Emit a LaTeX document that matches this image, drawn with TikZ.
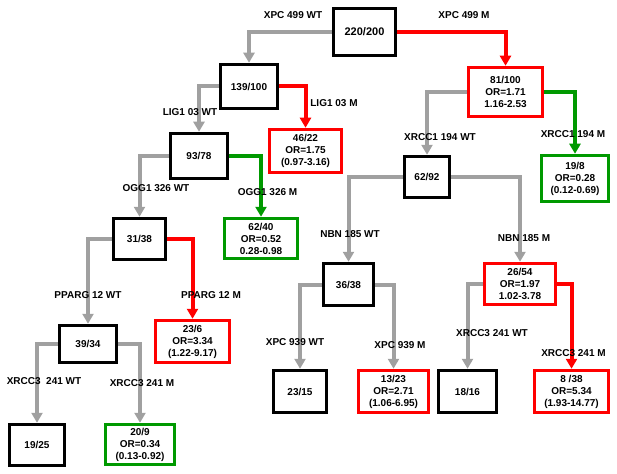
\documentclass[tikz,border=0pt]{standalone}
\usepackage{fontspec}
\setmainfont{Liberation Sans}
\usetikzlibrary{arrows.meta}
\definecolor{cgray}{RGB}{160,160,160}
\definecolor{cred}{RGB}{255,0,0}
\definecolor{cgreen}{RGB}{0,153,0}
\tikzset{
  box/.style={draw=black, line width=3.5pt, fill=white, inner sep=1pt, align=center,
    font=\fontsize{10}{12}\selectfont\bfseries},
  redbox/.style={box, draw=cred},
  greenbox/.style={box, draw=cgreen},
  lbl/.style={font=\fontsize{10}{12}\selectfont\bfseries, inner sep=0pt},
  conn/.style={line width=4pt, -{Triangle[width=11pt,length=10pt]}},
  gconn/.style={conn, cgray},
  rconn/.style={conn, cred},
  ggconn/.style={conn, cgreen},
}
\newcommand{\bx}[6]{\node[#1, minimum width=#4pt, minimum height=#5pt] (#2) at (#3) {#6};}
\begin{document}
\begin{tikzpicture}[x=1pt,y=-1pt]
\useasboundingbox (0,0) rectangle (617,473);
% boxes
\bx{box}{root}{364.5,32}{62}{47}{\fontsize{11}{13}\selectfont 220/200}
\bx{box}{a}{249,86.5}{57}{44}{139/100}
\bx{redbox}{b}{505.5,92}{74}{49}{81/100\\OR=1.71\\1.16-2.53}
\bx{redbox}{c}{305.5,151}{72}{43}{46/22\\OR=1.75\\(0.97-3.16)}
\bx{box}{d}{199,156}{57}{45}{93/78}
\bx{box}{e}{427,177}{45}{41}{62/92}
\bx{greenbox}{f}{575,178.5}{67}{46}{19/8\\OR=0.28\\(0.12-0.69)}
\bx{box}{g}{139.5,239}{52}{41}{31/38}
\bx{greenbox}{h}{261,238.5}{73}{40}{62/40\\OR=0.52\\0.28-0.98}
\bx{box}{i}{348.5,284.5}{50}{42}{36/38}
\bx{redbox}{j}{520,284}{71}{41}{26/54\\OR=1.97\\1.02-3.78}
\bx{box}{k}{88,344}{57}{37}{39/34}
\bx{redbox}{l}{192.5,341.5}{74}{42}{23/6\\OR=3.34\\(1.22-9.17)}
\bx{box}{m}{300,391.5}{53}{42}{23/15}
\bx{redbox}{n}{393.5,391.5}{70}{42}{13/23\\OR=2.71\\(1.06-6.95)}
\bx{box}{o}{467.5,391.5}{58}{42}{18/16}
\bx{redbox}{p}{571.5,391.5}{74}{42}{8 /38\\OR=5.34\\(1.93-14.77)}
\bx{box}{q}{37,445}{55}{41}{19/25}
\bx{greenbox}{r}{140,444.5}{69}{40}{20/9\\OR=0.34\\(0.13-0.92)}
% connectors
\draw[gconn] (root.west) -| (a.north);
\draw[rconn] (root.east) -| (b.north);
\draw[gconn] (a.west) -| (d.north);
\draw[rconn] (a.east) -| (c.north);
\draw[gconn] (b.west) -| (e.north);
\draw[ggconn] (b.east) -| (f.north);
\draw[gconn] (d.west) -| (g.north);
\draw[ggconn] (d.east) -| (h.north);
\draw[gconn] (g.west) -| (k.north);
\draw[rconn] (g.east) -| (l.north);
\draw[gconn] (k.west) -| (q.north);
\draw[gconn] (k.east) -| (r.north);
\draw[gconn] (e.west) -| (i.north);
\draw[gconn] (e.east) -| (j.north);
\draw[gconn] (i.west) -| (m.north);
\draw[gconn] (i.east) -| (n.north);
\draw[gconn] (j.west) -| (o.north);
\draw[rconn] (j.east) -| (p.north);
% labels
\node[lbl] (l1) at (293,15) {XPC 499 WT};
\node[lbl] (l2) at (464,15) {XPC 499 M};
\node[lbl] (l3) at (190,112) {LIG1 03 WT};
\node[lbl] (l4) at (334,103) {LIG1 03 M};
\node[lbl] (l5) at (440,137) {XRCC1 194 WT};
\node[lbl] (l6) at (573,134) {XRCC1 194 M};
\node[lbl] (l7) at (156,188) {OGG1 326 WT};
\node[lbl] (l8) at (267.5,192) {OGG1 326 M};
\node[lbl] (l9) at (88,295) {PPARG 12 WT};
\node[lbl] (l10) at (211,295) {PPARG 12 M};
\node[lbl] (l11) at (44,381) {XRCC3\ \ 241 WT};
\node[lbl] (l12) at (142,383) {XRCC3 241 M};
\node[lbl] (l13) at (350,234) {NBN 185 WT};
\node[lbl] (l14) at (524,238) {NBN 185 M};
\node[lbl] (l15) at (295,342) {XPC 939 WT};
\node[lbl] (l16) at (400,345) {XPC 939 M};
\node[lbl] (l17) at (492,333) {XRCC3 241 WT};
\node[lbl] (l18) at (573.5,353) {XRCC3 241 M};
\end{tikzpicture}
\end{document}
